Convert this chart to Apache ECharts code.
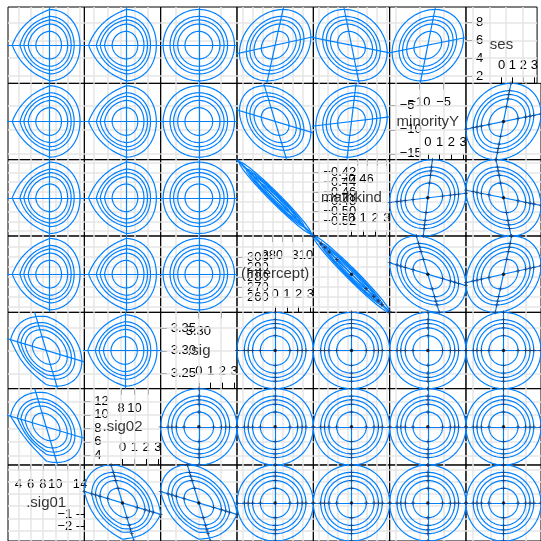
<!DOCTYPE html>
<html><head><meta charset="utf-8">
<script src="https://cdn.jsdelivr.net/npm/echarts@6/dist/echarts.min.js"></script>
<style>html,body{margin:0;padding:0;background:#fff;}#c{width:541px;height:541px;}</style>
</head><body><div id="c"></div>
<script>
// ---- data ----
const varNames = ['.sig01', '.sig02', '.sig', '(Intercept)', 'mathkind', 'minorityY', 'ses'];
const varLo = [2.33, 2.57, 3.2173, 244.7, -0.5502, -16.23, 1.17];
const varHi = [14.7, 13.87, 3.3846, 321.0, -0.3938, -0.33, 9.77];
const varDecimals = [0, 0, 2, 0, 2, 0, 0];
const gridTicks = [
  [4, 6, 8, 10, 12, 14], [4, 6, 8, 10, 12], [3.25, 3.30, 3.35],
  [250, 260, 270, 280, 290, 300, 310],
  [-0.54, -0.52, -0.50, -0.48, -0.46, -0.44, -0.42, -0.40],
  [-15, -10, -5], [2, 4, 6, 8]];
const leftTicks = [[], [4, 6, 8, 10, 12], [3.25, 3.30, 3.35],
  [250, 260, 270, 280, 290, 300, 310],
  [-0.54, -0.52, -0.50, -0.48, -0.46, -0.44, -0.42, -0.40],
  [-15, -10, -5], [2, 4, 6, 8]];
const topTicks = [[4, 6, 8, 10, 12, 14], [8, 10, 12], [3.30, 3.35], [280, 290, 300, 310],
  [-0.46, -0.44, -0.42, -0.40], [-10, -5], []];
const topLabels = [[4, 6, 8, 10, 14], [8, 10], [3.30], [280, 310], [-0.46], [-10, -5], []];
const zetaBottomLabels = [0, 1, 2, 3];
const zetaRightLabels = [0, -1, -2, -3];
const contourLevels = [1.177, 1.794, 2.146, 2.448, 3.035]; // 50 80 90 95 99 %
// pairwise correlation of the profile traces (var i, var j, rho)
const rhoI = [0, 0, 3, 3, 3, 4, 4, 5];
const rhoJ = [1, 2, 4, 5, 6, 5, 6, 6];
const rhoV = [-0.3, -0.3, -0.98, -0.3, 0.22, 0.12, -0.2, 0.2];
// per-panel shape distortion (row, col, quadrant flattening UR UL LL LR, shift, left point, right squeeze)
const shpRow = [0, 0, 1, 1, 2, 2, 3, 3, 4, 4, 5, 6, 6];
const shpCol = [0, 1, 0, 1, 0, 1, 0, 1, 1, 0, 0, 1, 2];
const shpQ = [
  [0, .4, .4, 0], [0, .4, .4, 0], [0, .4, .4, 0], [0, .4, .4, 0], [0, .4, .4, 0], [0, .4, .4, 0],
  [0, .4, .4, 0], [0, .4, .4, 0], [0, .35, .35, 0], [0, .25, .5, 0], [0, .2, .75, 0],
  [0.1, 0, .25, .45], [0.1, 0, .25, .4]];
const shpShift = [[.3, 0], [.3, 0], [.3, 0], [.3, 0], [.3, 0], [.3, 0], [.3, 0], [.3, 0], [.2, 0],
  [0, 0], [0, 0], [0, 0], [0, 0]];
const shpExt = [.05, .05, .05, .05, .05, .05, .05, .05, .04, 0, 0, 0, 0];
const shpSqueeze = [.15, .15, .15, .15, .15, .15, .15, .15, .1, 0, 0, 0, 0];

// ---- layout ----
const NV = 7, P0X = 8, P0Y = 7, PW = 76.33;
const Z_LIM = 3.247, O_LIM = 3.035, LMAX = 3.035;
const BLUE = '#0080ff', GRIDC = '#e6e6e6';
const FONT = 'Liberation Sans, Arial, Helvetica, sans-serif';
const TFS = 13;

function rho(a, b) {
  const i = Math.min(a, b), j = Math.max(a, b);
  for (let k = 0; k < rhoI.length; k++) if (rhoI[k] === i && rhoJ[k] === j) return rhoV[k];
  return 0;
}
function shapeFor(r, c) {
  for (let k = 0; k < shpRow.length; k++)
    if (shpRow[k] === r && shpCol[k] === c) return {q: shpQ[k], sh: shpShift[k], ext: shpExt[k], sq: shpSqueeze[k]};
  return {q: [0, 0, 0, 0], sh: [0, 0], ext: 0, sq: 0};
}
function fmt(v, d) { return v.toFixed(d).replace('-', '\u2212'); }

function contour(L, rh, shp) {
  const s = Math.sqrt(1 - rh * rh), w = Math.pow(L / LMAX, 2), n = 160, pts = [];
  for (let k = 0; k <= n; k++) {
    const t = 2 * Math.PI * k / n, c = Math.cos(t), sn = Math.sin(t);
    const qi = c >= 0 ? (sn >= 0 ? 0 : 3) : (sn >= 0 ? 1 : 2);
    const qe = shp.q[qi] * w;
    let f = (1 - qe) + qe / (Math.abs(c) + Math.abs(sn));
    if (shp.ext) f *= 1 + shp.ext * w * Math.pow(Math.max(0, -c), 6);
    if (shp.sq) f *= 1 - shp.sq * Math.pow(Math.max(0, c), 2);
    const u1 = f * c, u2 = f * sn;
    pts.push([L * u1 + shp.sh[0], L * (rh * u1 + s * u2) + shp.sh[1]]);
  }
  return pts;
}

function lab(show, margin, vals, formatter) {
  return {show: show, inside: true, margin: margin, customValues: vals, formatter: formatter,
    hideOverlap: false, fontSize: TFS, color: '#000', fontFamily: FONT};
}
function tick(show, len, vals) {
  return {show: show, inside: true, length: len, lineStyle: {color: '#000', width: 1}, customValues: vals};
}
const noLine = {show: false, onZero: false};

const grids = [], xAxes = [], yAxes = [], series = [];
for (let r = 0; r < NV; r++) {
  for (let c = 0; c < NV; c++) {
    const gi = grids.length;
    grids.push({left: P0X + c * PW, top: P0Y + r * PW, width: PW, height: PW,
      show: true, borderColor: '#000', borderWidth: 1, backgroundColor: 'transparent'});
    const yv = NV - 1 - r, xv = c;
    const midX = (varLo[xv] + varHi[xv]) / 2, halfX = (varHi[xv] - varLo[xv]) / 2;
    const midY = (varLo[yv] + varHi[yv]) / 2, halfY = (varHi[yv] - varLo[yv]) / 2;
    if (xv === yv) {
      const v = xv, d = varDecimals[v];
      xAxes.push({gridIndex: gi, type: 'value', position: 'bottom', min: -Z_LIM, max: Z_LIM,
        axisLine: noLine, splitLine: {show: false},
        axisTick: tick(v !== 0, 6, zetaBottomLabels),
        axisLabel: lab(v !== 0, 11, zetaBottomLabels, val => fmt(val, 0))});
      const xt = xAxes.length;
      xAxes.push({gridIndex: gi, type: 'value', position: 'top', min: varLo[v], max: varHi[v],
        axisLine: noLine, splitLine: {show: false},
        axisTick: tick(topTicks[v].length > 0, 6, topTicks[v]),
        axisLabel: lab(topLabels[v].length > 0, 13, topLabels[v], val => fmt(val, d))});
      const yl = yAxes.length;
      yAxes.push({gridIndex: gi, type: 'value', position: 'left', min: varLo[v], max: varHi[v],
        axisLine: noLine, splitLine: {show: false},
        axisTick: tick(leftTicks[v].length > 0, 6, leftTicks[v]),
        axisLabel: lab(leftTicks[v].length > 0, 10, leftTicks[v], val => fmt(val, d))});
      yAxes.push({gridIndex: gi, type: 'value', position: 'right', min: -Z_LIM, max: Z_LIM,
        axisLine: noLine, splitLine: {show: false},
        axisTick: tick(v === 0, 8, zetaRightLabels),
        axisLabel: lab(v === 0, 12, zetaRightLabels, val => fmt(val, 0))});
      const segs = [];
      gridTicks[v].forEach(t => { segs.push({coords: [[t, varLo[v]], [t, varHi[v]]]}); segs.push({coords: [[varLo[v], t], [varHi[v], t]]}); });
      series.push({type: 'lines', coordinateSystem: 'cartesian2d', xAxisIndex: xt, yAxisIndex: yl, data: segs,
        lineStyle: {color: GRIDC, width: 1.5, opacity: 1}, silent: true, z: 1, animation: false});
      series.push({type: 'scatter', xAxisIndex: xt, yAxisIndex: yl, data: [[midX, midY]], symbolSize: 0,
        label: {show: true, position: 'inside', formatter: varNames[v], fontSize: 15, color: '#000', fontFamily: FONT},
        silent: true, z: 5, animation: false});
      continue;
    }
    const isZeta = xv < yv;
    const xi = xAxes.length, yi = yAxes.length;
    xAxes.push({gridIndex: gi, type: 'value', show: false, min: isZeta ? -Z_LIM : varLo[xv], max: isZeta ? Z_LIM : varHi[xv]});
    yAxes.push({gridIndex: gi, type: 'value', show: false, min: isZeta ? -Z_LIM : varLo[yv], max: isZeta ? Z_LIM : varHi[yv]});
    const toX = z => isZeta ? z : midX + z * halfX / O_LIM;
    const toY = z => isZeta ? z : midY + z * halfY / O_LIM;
    const gx = t => isZeta ? (t - midX) / halfX * Z_LIM : t;
    const gy = t => isZeta ? (t - midY) / halfY * Z_LIM : t;
    const xmin = isZeta ? -Z_LIM : varLo[xv], xmax = isZeta ? Z_LIM : varHi[xv];
    const ymin = isZeta ? -Z_LIM : varLo[yv], ymax = isZeta ? Z_LIM : varHi[yv];
    const segs = [];
    gridTicks[xv].forEach(t => segs.push({coords: [[gx(t), ymin], [gx(t), ymax]]}));
    gridTicks[yv].forEach(t => segs.push({coords: [[xmin, gy(t)], [xmax, gy(t)]]}));
    series.push({type: 'lines', coordinateSystem: 'cartesian2d', xAxisIndex: xi, yAxisIndex: yi, data: segs,
      lineStyle: {color: GRIDC, width: 1.5, opacity: 1}, silent: true, z: 1, animation: false});
    const rh = rho(xv, yv), shp = shapeFor(r, c);
    const conts = contourLevels.map(L => ({coords: contour(L, rh, shp).map(p => [toX(p[0]), toY(p[1])])}));
    series.push({type: 'lines', coordinateSystem: 'cartesian2d', polyline: true, xAxisIndex: xi, yAxisIndex: yi,
      data: conts, lineStyle: {color: BLUE, width: 1.2, opacity: 1}, silent: true, clip: true, z: 2, animation: false});
    const lim = isZeta ? Z_LIM : O_LIM, sx = shp.sh[0], sy = shp.sh[1];
    const tr = [
      {coords: [[toX(-lim - 0.5 + sx), toY(-rh * (lim + 0.5) + sy)], [toX(lim + sx), toY(rh * lim + sy)]]},
      {coords: [[toX(-rh * lim + sx), toY(-lim + sy)], [toX(rh * lim + sx), toY(lim + sy)]]}];
    series.push({type: 'lines', coordinateSystem: 'cartesian2d', xAxisIndex: xi, yAxisIndex: yi,
      data: tr, lineStyle: {color: BLUE, width: 1.2, opacity: 1}, silent: true, clip: true, z: 2, animation: false});
    if (!isZeta) {
      const mk = [];
      contourLevels.forEach(L => {
        mk.push([toX(L), toY(rh * L)], [toX(-L), toY(-rh * L)], [toX(rh * L), toY(L)], [toX(-rh * L), toY(-L)]);
      });
      series.push({type: 'scatter', xAxisIndex: xi, yAxisIndex: yi, data: mk,
        symbol: 'path://M2,0H3V2H5V3H3V5H2V3H0V2H2Z', symbolSize: 4,
        itemStyle: {color: '#203050'}, silent: true, clip: true, z: 3, animation: false});
      series.push({type: 'scatter', xAxisIndex: xi, yAxisIndex: yi, data: [[toX(0), toY(0)]],
        symbol: 'circle', symbolSize: 3.5, itemStyle: {color: '#000'}, silent: true, z: 4, animation: false});
    }
  }
}

const chart = echarts.init(document.getElementById('c'), null, {renderer: 'canvas'});
chart.setOption({backgroundColor: '#fff', animation: false, grid: grids, xAxis: xAxes, yAxis: yAxes, series: series});
</script></body></html>
